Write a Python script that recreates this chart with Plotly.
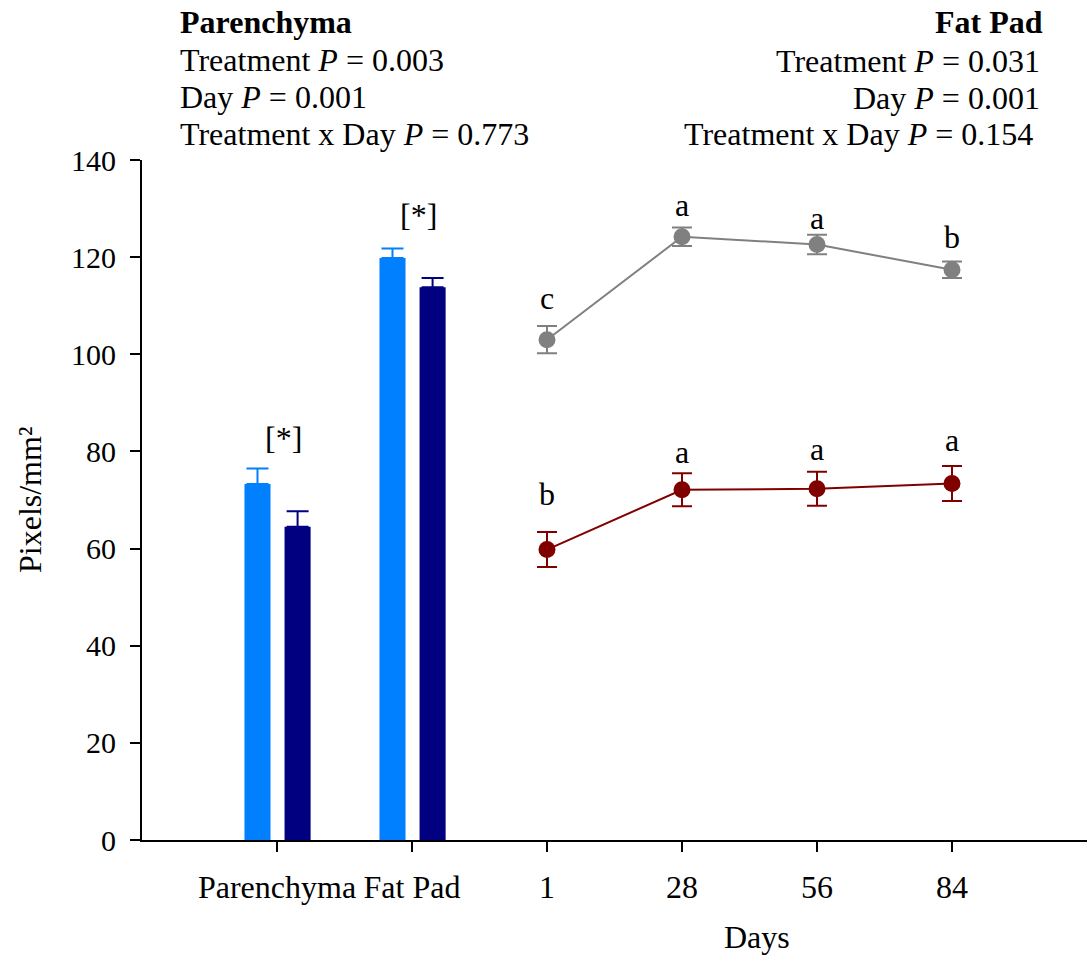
import plotly.graph_objects as go

# ---- data ----
tick_labels = ["Parenchyma", "Fat Pad", "1", "28", "56", "84"]
tick_pos = [0, 1, 2, 3, 4, 5]

bar_x = [0, 1]
bar_ctrl = [73.3, 119.8]
bar_ctrl_err = [3.2, 2.0]
bar_trt = [64.5, 113.8]
bar_trt_err = [3.2, 1.9]
bar_marks = ["[*]", "[*]"]
bar_mark_y = [82.8, 128.7]

day_x = [2, 3, 4, 5]
gray_vals = [103.0, 124.2, 122.6, 117.4]
gray_err = [2.8, 1.9, 2.0, 1.7]
gray_letters = ["c", "a", "a", "b"]
gray_letter_y = [111.5, 130.7, 128.0, 124.2]

red_vals = [59.8, 72.1, 72.3, 73.4]
red_err = [3.6, 3.4, 3.5, 3.6]
red_letters = ["b", "a", "a", "a"]
red_letter_y = [71.2, 79.9, 80.6, 82.4]

left_lines = ["<b>Parenchyma</b>", "Treatment <i>P</i> = 0.003", "Day <i>P</i> = 0.001",
              "Treatment x Day <i>P</i> = 0.773"]
right_lines = ["<b>Fat Pad</b>", "Treatment <i>P</i> = 0.031", "Day <i>P</i> = 0.001",
               "Treatment x Day <i>P</i> = 0.154"]

FONT = "Liberation Serif, Times New Roman, serif"
FS = 32
FS_Y = 30

W, H = 1092, 957
L, R, T, B = 142, 5, 160, 117
pw = W - L - R
ph = H - T - B


def px_x(x):
    return (x - L) / pw


def px_y(y):
    return (H - B - y) / ph


fig = go.Figure()

fig.add_trace(go.Bar(
    x=bar_x, y=bar_ctrl, width=0.193, offset=-0.241,
    marker=dict(color="#0080FF", line=dict(width=0)),
    error_y=dict(type="data", array=bar_ctrl_err, arrayminus=[0, 0], symmetric=False,
                 color="#0080FF", thickness=2, width=11),
    showlegend=False))
fig.add_trace(go.Bar(
    x=bar_x, y=bar_trt, width=0.193, offset=0.056,
    marker=dict(color="#000080", line=dict(width=0)),
    error_y=dict(type="data", array=bar_trt_err, arrayminus=[0, 0], symmetric=False,
                 color="#000080", thickness=2, width=11),
    showlegend=False))

fig.add_trace(go.Scatter(
    x=day_x, y=gray_vals, mode="lines+markers",
    line=dict(color="#808080", width=2),
    marker=dict(color="#808080", size=17),
    error_y=dict(type="data", array=gray_err, color="#808080", thickness=2, width=10),
    showlegend=False))
fig.add_trace(go.Scatter(
    x=day_x, y=red_vals, mode="lines+markers",
    line=dict(color="#800000", width=2),
    marker=dict(color="#800000", size=17),
    error_y=dict(type="data", array=red_err, color="#800000", thickness=2, width=10),
    showlegend=False))

ann = []
for x, t, y in zip(bar_x, bar_marks, bar_mark_y):
    ann.append(dict(x=x + 0.045, y=y, xref="x", yref="y", text=t, showarrow=False,
                    font=dict(family=FONT, size=FS, color="black")))
for x, t, y in zip(day_x, gray_letters, gray_letter_y):
    ann.append(dict(x=x, y=y, xref="x", yref="y", text=t, showarrow=False,
                    font=dict(family=FONT, size=FS, color="black")))
for x, t, y in zip(day_x, red_letters, red_letter_y):
    ann.append(dict(x=x, y=y, xref="x", yref="y", text=t, showarrow=False,
                    font=dict(family=FONT, size=FS, color="black")))

left_y = [22, 60, 97, 134]
for t, y in zip(left_lines, left_y):
    ann.append(dict(x=px_x(178), y=px_y(y), xref="paper", yref="paper", text=t,
                    showarrow=False, xanchor="left", yanchor="middle",
                    font=dict(family=FONT, size=FS, color="black")))
right_y = [22, 61, 98, 134]
right_x = [1045, 1042, 1042, 1035]
for t, y, xx in zip(right_lines, right_y, right_x):
    ann.append(dict(x=px_x(xx), y=px_y(y), xref="paper", yref="paper", text=t,
                    showarrow=False, xanchor="right", yanchor="middle",
                    font=dict(family=FONT, size=FS, color="black")))

ann.append(dict(x=px_x(757), y=px_y(937), xref="paper", yref="paper", text="Days",
                showarrow=False, xanchor="center", yanchor="middle",
                font=dict(family=FONT, size=FS, color="black")))
ann.append(dict(x=px_x(30), y=px_y(500), xref="paper", yref="paper", text="Pixels/mm²",
                showarrow=False, xanchor="center", yanchor="middle", textangle=-90,
                font=dict(family=FONT, size=FS, color="black")))

fig.update_layout(
    width=W, height=H, autosize=False,
    margin=dict(l=L, r=R, t=T, b=B, pad=0),
    paper_bgcolor="white", plot_bgcolor="white",
    barmode="overlay",
    annotations=ann,
    font=dict(family=FONT, size=FS, color="black"),
    xaxis=dict(range=[-1, 6], tickvals=tick_pos, ticktext=tick_labels,
               showline=True, linecolor="black", linewidth=2,
               ticks="outside", ticklen=10, tickwidth=2, tickcolor="black",
               showgrid=False, zeroline=False, ticklabelstandoff=8,
               tickfont=dict(family=FONT, size=FS, color="black")),
    yaxis=dict(range=[0, 140], tickvals=[0, 20, 40, 60, 80, 100, 120, 140],
               showline=True, linecolor="black", linewidth=2,
               ticks="outside", ticklen=10, tickwidth=2, tickcolor="black",
               showgrid=False, zeroline=False, ticklabelstandoff=8,
               tickfont=dict(family=FONT, size=FS_Y, color="black")),
)

fig.write_html("out.html", config={"displayModeBar": False},
               post_script="document.body.style.margin='0';document.body.style.overflow='hidden';")
